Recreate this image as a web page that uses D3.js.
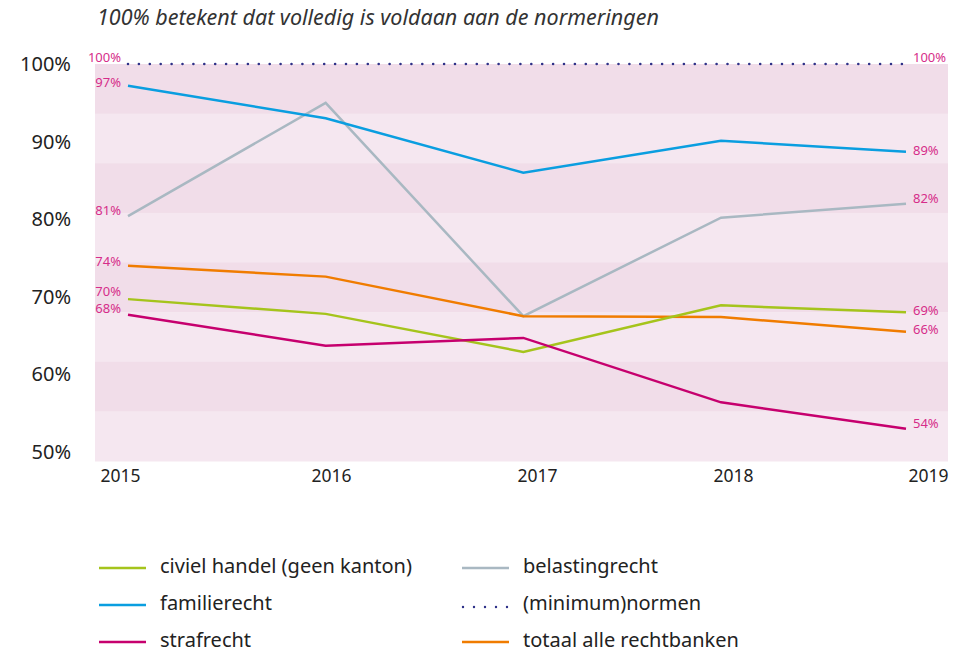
<!DOCTYPE html>
<html><head><meta charset="utf-8">
<script src="https://cdn.jsdelivr.net/npm/d3@7"></script>
<style>body{margin:0;background:#fff}svg{display:block}text{font-family:"Noto Sans",sans-serif}</style>
</head><body><svg id="c" width="969" height="653"></svg>
<script>
const years = [2015, 2016, 2017, 2018, 2019];
const yTicks = [50, 60, 70, 80, 90, 100];
const civiel = [69.7, 67.8, 62.9, 68.9, 68.0];
const familie = [97.2, 93.0, 86.0, 90.1, 88.7];
const straf = [67.7, 63.7, 64.7, 56.4, 53.0];
const belasting = [80.4, 95.0, 67.5, 80.2, 82.0];
const totaal = [74.0, 72.6, 67.5, 67.4, 65.5];
const normen = [100, 100, 100, 100, 100];
const labelsStart = ["97%", "81%", "74%", "70%", "68%", "100%"];
const labelsEnd = ["89%", "82%", "69%", "66%", "54%", "100%"];
const names = ["civiel handel (geen kanton)", "familierecht", "strafrecht", "belastingrecht", "(minimum)normen", "totaal alle rechtbanken"];
const title = "100% betekent dat volledig is voldaan aan de normeringen";

const FONT = "'Noto Sans',sans-serif";
const svg = d3.select("#c");
const plot = {left: 95, right: 948, top: 64, bottom: 461};
const y = d3.scaleLinear().domain([50, 100]).range([452, 64]);
const x = d3.scaleLinear().domain([2015, 2018, 2019]).range([128, 721, 906]);
const xl = d3.scaleLinear().domain([2015, 2016, 2017, 2018, 2019]).range([120, 331, 537, 733, 928]);

// bands
const nb = 8, bh = (plot.bottom - plot.top) / nb;
svg.append("g").selectAll("rect").data(d3.range(nb)).join("rect")
  .attr("x", plot.left).attr("width", plot.right - plot.left)
  .attr("y", i => plot.top + i * bh).attr("height", bh + 0.5)
  .attr("fill", i => i % 2 === 0 ? "#f1dde9" : "#f5e7f0");

// title
svg.append("text").attr("x", 97).attr("y", 25).attr("font-style", "italic")
  .attr("font-size", 21.5).attr("fill", "#333").text(title);

// y axis
const ya = svg.append("g").attr("transform", "translate(71,0)")
  .call(d3.axisLeft(y).tickValues(yTicks).tickSize(0).tickPadding(0).tickFormat(d => d + "%"));
ya.select(".domain").remove();
ya.selectAll("text").attr("font-size", 20).attr("fill", "#222").attr("font-family", FONT);

// x axis
const xa = svg.append("g").attr("transform", "translate(0,470)")
  .call(d3.axisBottom(xl).tickValues(years).tickSize(0).tickPadding(0).tickFormat(d3.format("d")));
xa.select(".domain").remove();
xa.selectAll("text").attr("font-size", 17.5).attr("fill", "#222").attr("font-family", FONT);

const series = [
  {vals: civiel, color: "#a5c41c", dash: null},
  {vals: familie, color: "#0a9ee0", dash: null},
  {vals: straf, color: "#c6006e", dash: null},
  {vals: belasting, color: "#a9b8c2", dash: null},
  {vals: normen, color: "#2e3188", dash: "0 10.9"},
  {vals: totaal, color: "#f07c00", dash: null}
];
const line = d3.line().x((d, i) => x(years[i])).y(d => y(d));
const drawOrder = [3, 5, 0, 2, 1, 4];
drawOrder.forEach(k => {
  const s = series[k];
  svg.append("path").datum(s.vals).attr("d", line).attr("fill", "none")
    .attr("stroke", s.color).attr("stroke-width", s.dash ? 2.6 : 2.5)
    .attr("stroke-linecap", s.dash ? "round" : "butt")
    .attr("stroke-dasharray", s.dash);
});

// value labels
const startSeries = [familie, belasting, totaal, civiel, straf, normen];
const startDy = [-2, -5, -3, -7, -5, -5];
const endSeries = [familie, belasting, civiel, totaal, straf, normen];
const endDy = [0, -4, -1, -1, -4, -5];
const lblColor = "#d62d8a";
svg.append("g").selectAll("text").data(labelsStart).join("text")
  .attr("x", 121).attr("y", (d, i) => y(startSeries[i][0]) + startDy[i])
  .attr("text-anchor", "end").attr("dominant-baseline", "middle")
  .attr("font-size", 13).attr("fill", lblColor).text(d => d);
svg.append("g").selectAll("text").data(labelsEnd).join("text")
  .attr("x", 913).attr("y", (d, i) => y(endSeries[i][4]) + endDy[i])
  .attr("dominant-baseline", "middle")
  .attr("font-size", 13).attr("fill", lblColor).text(d => d);

// legend
const lg = svg.append("g");
names.forEach((n, i) => {
  const col = Math.floor(i / 3), row = i % 3;
  const lx = col === 0 ? 99 : 462, tx = col === 0 ? 160 : 523;
  const ly = 568 + row * 37;
  const s = series[i];
  lg.append("line").attr("x1", lx + (s.dash ? 1 : 0)).attr("x2", lx + 47).attr("y1", ly + (s.dash ? 2 : 0)).attr("y2", ly + (s.dash ? 2 : 0))
    .attr("stroke", s.color).attr("stroke-width", s.dash ? 2.4 : 2.5)
    .attr("stroke-linecap", s.dash ? "round" : "butt").attr("stroke-dasharray", s.dash ? "0 11" : null);
  lg.append("text").attr("x", tx).attr("y", ly).attr("dominant-baseline", "middle")
    .attr("font-size", 20).attr("fill", "#222").text(n);
});
</script></body></html>
